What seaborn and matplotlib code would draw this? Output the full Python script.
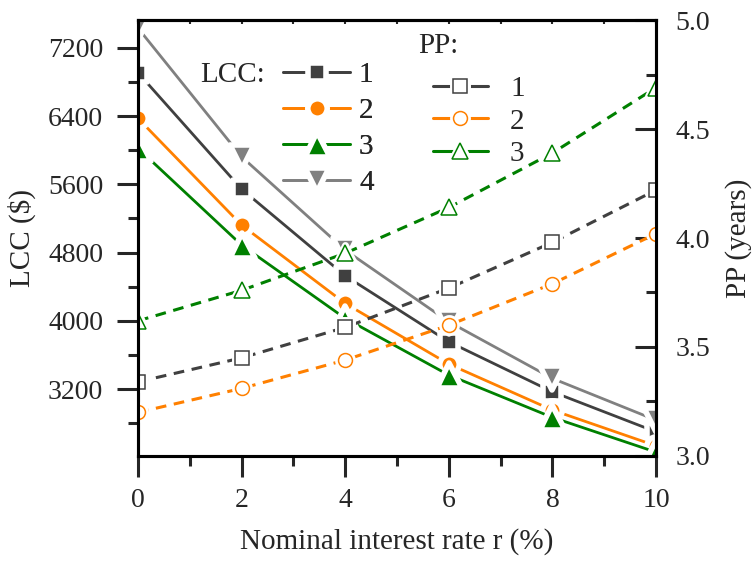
import numpy as np
import pandas as pd
import matplotlib
matplotlib.use('Agg')
import matplotlib.pyplot as plt
import seaborn as sns
from matplotlib.lines import Line2D
from matplotlib.markers import MarkerStyle
from matplotlib.ticker import MultipleLocator, FormatStrFormatter
from matplotlib.legend_handler import HandlerTuple

# --- данные ---
rate = [0, 2, 4, 6, 8, 10]

lcc_1 = [6907, 5543, 4527, 3753, 3167, 2698]
lcc_2 = [6372, 5121, 4203, 3492, 2953, 2534]
lcc_3 = [6021, 4887, 4028, 3363, 2867, 2460]
lcc_4 = [7430, 5922, 4828, 3988, 3324, 2835]

pp_1 = [3.34, 3.45, 3.59, 3.77, 3.98, 4.22]
pp_2 = [3.20, 3.31, 3.44, 3.60, 3.79, 4.02]
pp_3 = [3.62, 3.76, 3.93, 4.14, 4.39, 4.69]

labels_lcc = ['1', '2', '3', '4']
labels_pp = ['1', '2', '3']

# --- стиль ---
sns.set_style('ticks')
plt.rcParams['font.family'] = ['Liberation Serif']
plt.rcParams['font.size'] = 20

c_dark = '#404040'
c_orange = '#ff8000'
c_green = '#008000'
c_gray = '#808080'

lcc_series = [lcc_1, lcc_2, lcc_3, lcc_4]
lcc_colors = [c_dark, c_orange, c_green, c_gray]
lcc_markers = ['s', 'o', '^', 'v']
lcc_sizes = [13.4, 14.0, 18.0, 17.5]   # с учётом белой обводки

pp_series = [pp_1, pp_2, pp_3]
pp_colors = [c_dark, c_orange, c_green]
pp_markers = ['s', 'o', '^']
pp_sizes = [9.4, 10.0, 11.5]

fig, ax = plt.subplots(figsize=(7.53, 5.61), dpi=100)
fig.subplots_adjust(left=0.1833, right=0.8712, top=0.9643, bottom=0.1872)
ax2 = ax.twinx()

dash = (0, (3.5, 2.5))
gap_w = 4.0


def mk(m):
    return MarkerStyle(m, joinstyle='round')


# LCC: сплошные линии, залитые маркеры с белым зазором
lcc_handles = []
for vals, col, m, ms in zip(lcc_series, lcc_colors, lcc_markers, lcc_sizes):
    style = dict(color=col, lw=2.0, marker=mk(m), markersize=ms,
                 markerfacecolor=col, markeredgecolor='white',
                 markeredgewidth=gap_w)
    sns.lineplot(x=rate, y=vals, ax=ax, **style)
    lcc_handles.append(Line2D([], [], **style))

# PP: пунктир, пустые маркеры
pp_handles = []
for vals, col, m, ms in zip(pp_series, pp_colors, pp_markers, pp_sizes):
    halo = dict(color=col, lw=2.2, marker=mk(m), markersize=ms,
                markerfacecolor='white', markeredgecolor='white',
                markeredgewidth=gap_w + 1)
    face = dict(linestyle='', marker=m, markersize=ms,
                markerfacecolor='white', markeredgecolor=col,
                markeredgewidth=1.1)
    sns.lineplot(x=rate, y=vals, ax=ax2, linestyle=dash, **halo)
    sns.lineplot(x=rate, y=vals, ax=ax2, color=col, **face)
    pp_handles.append((Line2D([], [], linestyle='-', **halo),
                       Line2D([], [], **face)))

# --- оси ---
ax.set_xlim(0, 10)
ax.set_ylim(2415, 7525)
ax2.set_ylim(3.0, 5.0)

ax.xaxis.set_major_locator(MultipleLocator(2))
ax.xaxis.set_minor_locator(MultipleLocator(1))
ax.yaxis.set_major_locator(MultipleLocator(800))
ax.yaxis.set_minor_locator(MultipleLocator(400))
ax2.yaxis.set_major_locator(MultipleLocator(0.5))
ax2.yaxis.set_minor_locator(MultipleLocator(0.25))
ax2.yaxis.set_major_formatter(FormatStrFormatter('%.1f'))

for a in (ax, ax2):
    for s in a.spines.values():
        s.set_visible(True)
        s.set_linewidth(2.2)
        s.set_color('black')

ax.tick_params(axis='both', which='major', direction='out', length=15,
               width=2.2, labelsize=20)
ax.tick_params(axis='x', which='major', pad=8)
ax.tick_params(axis='y', which='major', pad=10)
ax.tick_params(axis='both', which='minor', direction='out', length=7.5,
               width=2.2)
ax.tick_params(axis='y', right=False, which='both')
ax2.tick_params(axis='y', which='major', direction='in', length=15,
                width=2.2, pad=14, labelsize=20)
ax2.tick_params(axis='y', which='minor', direction='in', length=7.5,
                width=2.2)

top = ax.secondary_xaxis('top')
top.set_xticks(range(0, 11))
top.tick_params(direction='in', length=3, width=1.5, labeltop=False)
top.spines['top'].set_linewidth(2.2)

ax.set_xlabel('Nominal interest rate r (%)', fontsize=21)
ax.set_ylabel('LCC ($)', fontsize=21)
ax2.set_ylabel('PP (years)', fontsize=21)
ax.xaxis.set_label_coords(0.5, -0.165)
ax.yaxis.set_label_coords(-0.197, 0.5)
ax2.yaxis.set_label_coords(1.133, 0.5)

# --- легенды ---
leg1 = ax.legend(lcc_handles, labels_lcc, loc='upper left',
                 bbox_to_anchor=(0.28, 0.905), frameon=False, borderpad=0,
                 borderaxespad=0, handlelength=2.3, handletextpad=0.3,
                 labelspacing=0.33, fontsize=21)
ax.add_artist(leg1)
ax.text(0.12, 0.875, 'LCC:', transform=ax.transAxes, va='center',
        ha='left', fontsize=21)

leg2 = ax2.legend(pp_handles, labels_pp, loc='upper left',
                  bbox_to_anchor=(0.569, 0.873), frameon=False, borderpad=0,
                  borderaxespad=0, handlelength=1.9, handletextpad=0.75,
                  labelspacing=0.22, fontsize=21,
                  handler_map={tuple: HandlerTuple(ndivide=1, pad=0)})
ax2.text(0.541, 0.94, 'PP:', transform=ax2.transAxes, va='center',
         ha='left', fontsize=21)

fig.savefig('out.png', dpi=100)
